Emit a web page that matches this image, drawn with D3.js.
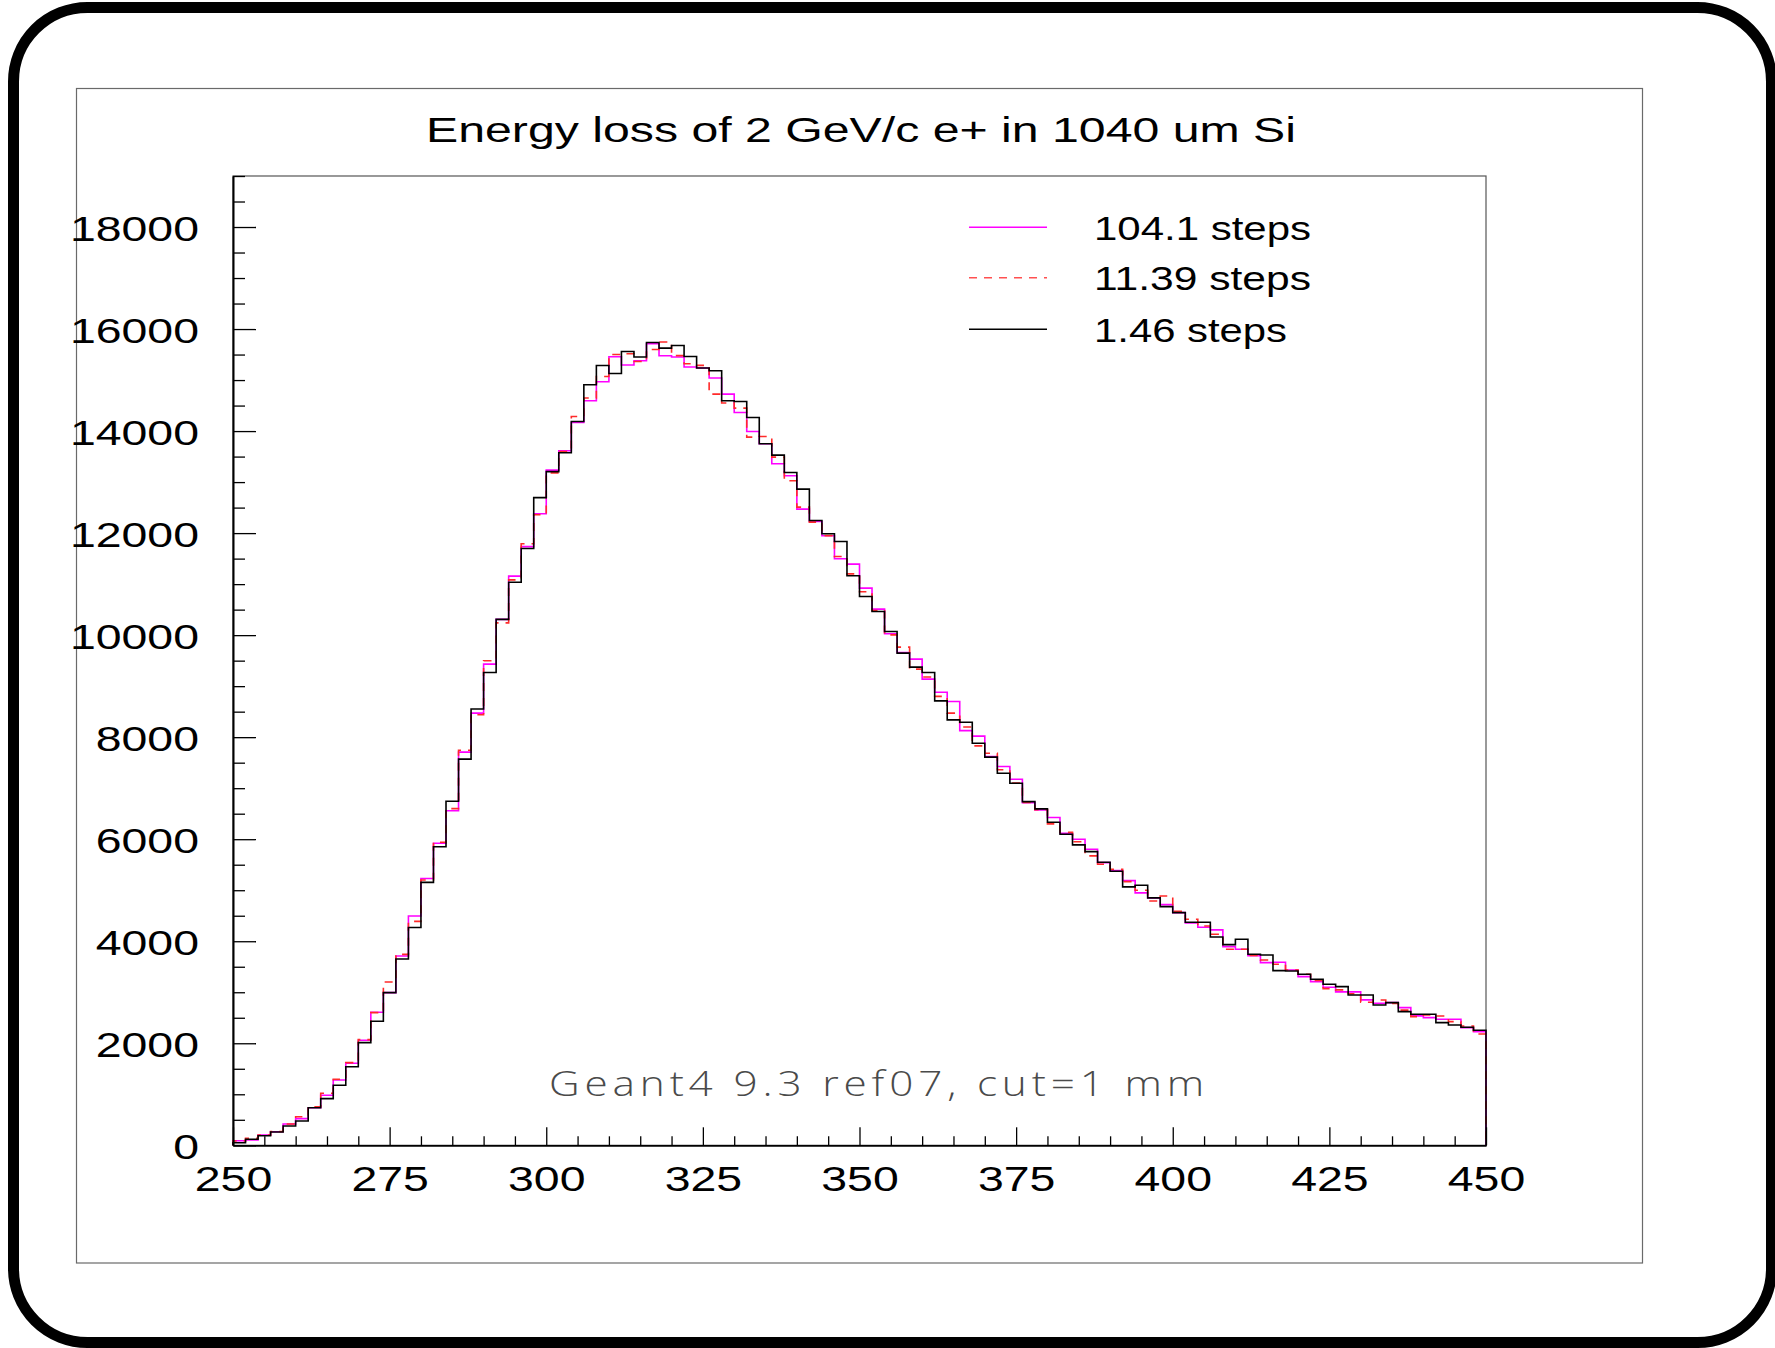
<!DOCTYPE html>
<html><head><meta charset="utf-8">
<script src="https://cdn.jsdelivr.net/npm/d3@7"></script>
<style>html,body{margin:0;padding:0;background:#fff;} svg{display:block}</style>
</head><body>
<svg id="c" width="1775" height="1348"></svg>
<script>
// ---------------- data ----------------
const xRange = [250, 450];
const binWidth = 2;
const steps146 = [51,118,188,261,378,476,737,914,1176,1541,
 2012,2431,2992,3653,4268,5153,5851,6745,7570,8553,
 9267,10310,11037,11698,12696,13206,13574,14188,14908,15286,
 15129,15561,15451,15737,15627,15678,15463,15235,15182,14594,
 14580,14267,13751,13529,13188,12863,12247,11986,11835,11163,
 10757,10463,10071,9647,9373,9267,8712,8339,8294,7882,
 7608,7294,7098,6737,6594,6333,6098,5888,5757,5549,
 5373,5065,5098,4849,4679,4561,4373,4373,4084,3934,
 4039,3745,3731,3424,3418,3353,3255,3157,3111,2947,
 2947,2751,2797,2620,2568,2568,2405,2359,2313,2254];
const steps1041 = [90,104,202,267,418,522,737,980,1280,1607,
 2058,2608,2992,3712,4494,5229,5920,6557,7706,8471,
 9431,10310,11157,11735,12380,13235,13614,14169,14594,14966,
 15457,15294,15378,15712,15476,15451,15255,15235,15039,14725,
 14365,13992,13751,13359,13124,12471,12227,11947,11496,11392,
 10922,10510,10026,9659,9529,9137,8882,8698,8129,8020,
 7620,7424,7176,6718,6575,6424,6118,6000,5804,5540,
 5386,5188,4947,4849,4718,4561,4360,4275,4222,3894,
 3843,3718,3580,3588,3437,3307,3209,3098,3007,3007,
 2850,2783,2797,2699,2536,2503,2470,2470,2307,2229];
const steps1139 = [85,137,200,270,418,561,757,1019,1294,1620,
 2071,2600,3202,3743,4389,5200,5940,6600,7743,8441,
 9497,10241,11084,11790,12359,13180,13600,14286,14647,15071,
 15500,15516,15365,15600,15745,15480,15320,15287,14725,14549,
 14450,13882,13894,13490,13025,12510,12216,11950,11541,11200,
 10850,10480,10006,9765,9333,9180,8800,8471,8200,7830,
 7686,7360,7100,6720,6580,6300,6137,5950,5673,5510,
 5412,5169,5000,4790,4888,4588,4431,4300,4137,3843,
 3843,3720,3633,3549,3437,3353,3230,3072,3046,2970,
 2804,2849,2780,2650,2523,2555,2535,2424,2339,2183];
const xTickLabels = [250,275,300,325,350,375,400,425,450];
const yTickLabels = [0,2000,4000,6000,8000,10000,12000,14000,16000,18000];
const legendLabels = ["104.1 steps","11.39 steps","1.46 steps"];
const titleText = "Energy loss of 2 GeV/c e+ in 1040 um Si";
const noteText = "Geant4 9.3 ref07, cut=1 mm";

// ---------------- layout ----------------
const svg = d3.select("#c");
const P = {l:233, r:1486, t:176, b:1145.3};
const SX = 1.29; // horizontal stretch of glyphs
const x = d3.scaleLinear().domain(xRange).range([P.l, P.r]);
const y = d3.scaleLinear().domain([0, 19000]).range([P.b, P.t]);

// outer rounded frame
svg.append("rect").attr("x",13.5).attr("y",7.5).attr("width",1758).attr("height",1335)
  .attr("rx",74).attr("ry",74).attr("fill","none").attr("stroke","#000").attr("stroke-width",11);
// pad frame
svg.append("rect").attr("x",76.5).attr("y",88.5).attr("width",1566).attr("height",1174.5)
  .attr("fill","none").attr("stroke","#6a6a6a").attr("stroke-width",1.2);
// plot frame
svg.append("rect").attr("x",P.l).attr("y",P.t).attr("width",P.r-P.l).attr("height",P.b-P.t)
  .attr("fill","none").attr("stroke","#555").attr("stroke-width",1.2);

// title
svg.append("text").attr("x",861).attr("y",142).attr("text-anchor","middle")
  .attr("font-family","Liberation Sans, Arial, sans-serif").attr("font-size",35.5)
  .attr("textLength",870).attr("lengthAdjust","spacingAndGlyphs")
  .attr("fill","#000").text(titleText);

// histograms
svg.append("defs").append("clipPath").attr("id","pc").append("rect")
  .attr("x",P.l-1).attr("y",P.t).attr("width",P.r-P.l+2).attr("height",P.b-P.t+1);
function stepPath(vals){
  let d = `M${x(xRange[0])},${y(0)}`;
  vals.forEach((v,i)=>{ d += `V${y(v)}H${x(xRange[0]+binWidth*(i+1))}`; });
  return d + `V${y(0)}`;
}
const series = [
  {vals:steps1041, color:"#ff00ff", dash:null, w:1.6},
  {vals:steps1139, color:"#ff2a2a", dash:"8,7", w:1.6},
  {vals:steps146, color:"#000", dash:null, w:1.6}
];
const hg = svg.append("g").attr("clip-path","url(#pc)");
series.forEach(s=>{
  hg.append("path").attr("d",stepPath(s.vals)).attr("fill","none")
    .attr("stroke",s.color).attr("stroke-width",s.w)
    .attr("stroke-dasharray",s.dash);
});

// axes
const fontAx = "Liberation Sans, Arial, sans-serif";
const yMinor = d3.range(0, 19001, 500).filter(v=>v%2000!==0);
const xMinor = d3.range(250, 451, 5).filter(v=>v%25!==0);

const gyMinor = svg.append("g").attr("transform",`translate(${P.l},0)`)
  .call(d3.axisLeft(y).tickValues(yMinor).tickSize(-12).tickSizeOuter(0).tickFormat(""));
const gy = svg.append("g").attr("transform",`translate(${P.l},0)`)
  .call(d3.axisLeft(y).tickValues(yTickLabels).tickSize(-23).tickSizeOuter(0).tickFormat(d3.format("d")));
const gxMinor = svg.append("g").attr("transform",`translate(0,${P.b})`)
  .call(d3.axisBottom(x).tickValues(xMinor).tickSize(-9).tickSizeOuter(0).tickFormat(""));
const gx = svg.append("g").attr("transform",`translate(0,${P.b})`)
  .call(d3.axisBottom(x).tickValues(xTickLabels).tickSize(-18).tickSizeOuter(0).tickFormat(d3.format("d")));

[gyMinor,gy,gxMinor,gx].forEach(g=>{
  g.selectAll("path.domain").attr("stroke","#000").attr("stroke-width",1.6);
  g.selectAll(".tick line").attr("stroke","#000").attr("stroke-width",1.3);
});
gy.selectAll(".tick text").attr("font-family",fontAx).attr("font-size",36).attr("fill","#000")
  .attr("x",-34/SX).attr("dy",null).attr("y",13).attr("transform",`scale(${SX},1)`)
  .attr("text-anchor","end");
gx.selectAll(".tick text").attr("font-family",fontAx).attr("font-size",36).attr("fill","#000")
  .attr("dy",null).attr("y",45.5).attr("transform",`scale(${SX},1)`).attr("x",0);

// legend
const legY = [227.3, 277.7, 329.3];
const legCols = ["#ff00ff","#ff5050","#000"];
const legDash = [null,"8,7",null];
const legW = [217,217,193];
const lg = svg.append("g");
legendLabels.forEach((t,i)=>{
  lg.append("line").attr("x1",969).attr("x2",1047).attr("y1",legY[i]).attr("y2",legY[i])
    .attr("stroke",legCols[i]).attr("stroke-width",1.5).attr("stroke-dasharray",legDash[i]);
  lg.append("text").attr("x",1094).attr("y",legY[i]+12.5)
    .attr("font-family",fontAx).attr("font-size",33.5).attr("fill","#000")
    .attr("textLength",legW[i]).attr("lengthAdjust","spacingAndGlyphs").text(t);
});

// note text (thin stroke font look)
svg.append("text").attr("x",549).attr("y",1095.7)
  .attr("font-family","Open Sans, Lato, sans-serif").attr("font-weight",300)
  .attr("font-size",35).attr("fill","#4a4a4a").attr("letter-spacing",4)
  .attr("textLength",660).attr("lengthAdjust","spacingAndGlyphs").text(noteText);
</script>
</body></html>
